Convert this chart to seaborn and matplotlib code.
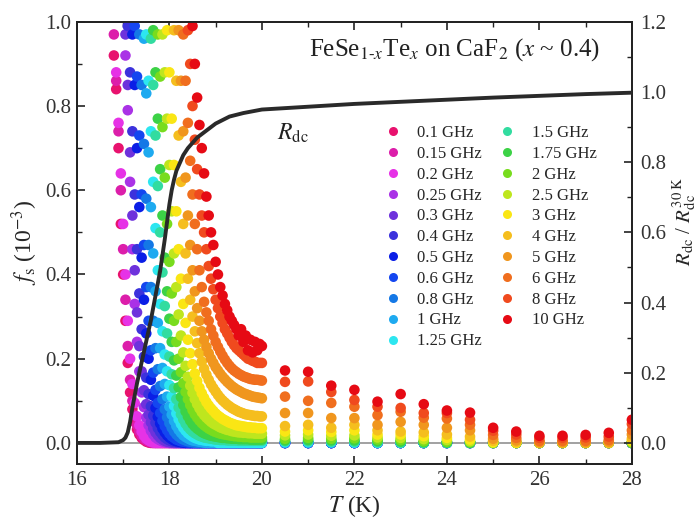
import numpy as np
import pandas as pd
import matplotlib
matplotlib.use("Agg")
import matplotlib.pyplot as plt
from matplotlib.lines import Line2D
from matplotlib.ticker import MultipleLocator
import seaborn as sns

# ---------------- data ----------------
freq_labels = ["0.1 GHz", "0.15 GHz", "0.2 GHz", "0.25 GHz", "0.3 GHz", "0.4 GHz",
               "0.5 GHz", "0.6 GHz", "0.8 GHz", "1 GHz", "1.25 GHz", "1.5 GHz",
               "1.75 GHz", "2 GHz", "2.5 GHz", "3 GHz", "4 GHz", "5 GHz", "6 GHz",
               "8 GHz", "10 GHz"]
colors = ["#E8126E", "#DC1EAA", "#E632E6", "#AA32E6", "#6E32DC", "#3C32DC",
          "#0A1EE6", "#1446F0", "#1478E6", "#1EAAF0", "#2DE6F0", "#32DCA0",
          "#3CD246", "#78DC1E", "#BEE61E", "#FAE614", "#F5BE1E", "#F0961E",
          "#F06E1E", "#F04A1E", "#E60A14"]

# dense sweep: measured every 0.05 K from 16.70 K to 20.00 K
T_dense = np.round(np.arange(16.70, 20.0001, 0.05), 2)
# first temperature at which each series is on-scale (f_s <= 1)
start_T = [16.80, 16.80, 16.85, 17.05, 17.05, 17.10, 17.20, 17.25, 17.35, 17.45,
           17.50, 17.60, 17.65, 17.75, 17.85, 17.95, 18.10, 18.20, 18.30, 18.40, 18.50]
# sparse points above 20 K
T_sparse = [20.5, 21.0, 21.5, 22.0, 22.5, 23.0, 23.5, 24.0, 24.5, 25.0, 25.5,
            26.0, 26.5, 27.0, 27.5, 28.0]

# f_s (1e-3) values, dense sweep (remaining points read as 0)
fs_0_10 = [0.92, 0.84, 0.70, 0.52, 0.40, 0.29, 0.19, 0.12, 0.08, 0.05, 0.032, 0.02,
           0.012, 0.007, 0.003, 0.001]
fs_0_15 = [0.97, 0.86, 0.74, 0.60, 0.46, 0.34, 0.23, 0.15, 0.10, 0.065, 0.042, 0.027,
           0.017, 0.01, 0.006, 0.003, 0.001]
fs_0_20 = [0.88, 0.76, 0.64, 0.52, 0.40, 0.29, 0.20, 0.14, 0.095, 0.063, 0.042, 0.027,
           0.017, 0.01, 0.006, 0.003, 0.001]
fs_0_25 = [0.92, 0.79, 0.62, 0.46, 0.33, 0.24, 0.17, 0.12, 0.085, 0.06, 0.042, 0.029,
           0.02, 0.013, 0.009, 0.006, 0.004, 0.002, 0.001]
fs_0_30 = [0.97, 0.85, 0.69, 0.54, 0.41, 0.31, 0.23, 0.17, 0.125, 0.092, 0.067, 0.049,
           0.035, 0.025, 0.018, 0.012, 0.008, 0.005, 0.003, 0.002, 0.001]
fs_0_40 = [0.99, 0.88, 0.74, 0.59, 0.46, 0.355, 0.27, 0.205, 0.155, 0.116, 0.087, 0.065,
           0.048, 0.035, 0.026, 0.019, 0.013, 0.009, 0.006, 0.004, 0.003, 0.002, 0.001]
fs_0_50 = [0.97, 0.85, 0.70, 0.56, 0.44, 0.34, 0.26, 0.20, 0.15, 0.112, 0.083, 0.062,
           0.046, 0.034, 0.025, 0.018, 0.013, 0.009, 0.006, 0.004, 0.003, 0.002, 0.001]
fs_0_60 = [0.99, 0.87, 0.73, 0.59, 0.47, 0.37, 0.29, 0.22, 0.167, 0.126, 0.095, 0.071,
           0.053, 0.04, 0.03, 0.022, 0.016, 0.012, 0.008, 0.006, 0.004, 0.003, 0.002, 0.001]
fs_0_80 = [0.97, 0.85, 0.71, 0.58, 0.47, 0.37, 0.29, 0.225, 0.175, 0.135, 0.104, 0.08,
           0.061, 0.047, 0.036, 0.027, 0.02, 0.015, 0.011, 0.008, 0.006, 0.004, 0.003,
           0.002, 0.001]
fs_1_00 = [0.96, 0.83, 0.69, 0.56, 0.45, 0.36, 0.285, 0.225, 0.178, 0.14, 0.11, 0.086,
           0.067, 0.052, 0.04, 0.031, 0.024, 0.018, 0.014, 0.011, 0.008, 0.006, 0.005,
           0.004, 0.003, 0.002, 0.001]
fs_1_25 = [0.97, 0.86, 0.74, 0.62, 0.51, 0.41, 0.33, 0.265, 0.21, 0.17, 0.137, 0.11,
           0.088, 0.07, 0.056, 0.045, 0.036, 0.029, 0.023, 0.019, 0.015, 0.012, 0.01,
           0.008, 0.007, 0.006, 0.005, 0.005, 0.004, 0.004, 0.004]
fs_1_50 = [0.96, 0.85, 0.73, 0.61, 0.50, 0.405, 0.325, 0.26, 0.205, 0.163, 0.13, 0.104,
           0.084, 0.068, 0.056, 0.046, 0.038, 0.032, 0.027, 0.023, 0.02, 0.017, 0.015,
           0.013, 0.012, 0.011, 0.01, 0.009, 0.008, 0.008, 0.007, 0.007, 0.007, 0.006,
           0.006, 0.006, 0.006, 0.006, 0.005, 0.005, 0.005, 0.005, 0.005, 0.005, 0.005,
           0.005, 0.005, 0.005, 0.005]
fs_1_75 = [0.98, 0.88, 0.77, 0.65, 0.54, 0.44, 0.36, 0.295, 0.24, 0.196, 0.16, 0.132,
           0.109, 0.09, 0.075, 0.063, 0.053, 0.045, 0.039, 0.034, 0.03, 0.026, 0.023,
           0.021, 0.019, 0.017, 0.016, 0.015, 0.014, 0.013, 0.012, 0.012, 0.011, 0.011,
           0.01, 0.01, 0.01, 0.009, 0.009, 0.009, 0.009, 0.009, 0.008, 0.008, 0.008,
           0.008, 0.008, 0.008]
fs_2_00 = [0.97, 0.87, 0.75, 0.63, 0.52, 0.43, 0.355, 0.29, 0.24, 0.20, 0.168, 0.142,
           0.121, 0.104, 0.09, 0.078, 0.068, 0.06, 0.053, 0.047, 0.042, 0.038, 0.034,
           0.031, 0.028, 0.026, 0.024, 0.022, 0.021, 0.02, 0.019, 0.018, 0.017, 0.016,
           0.016, 0.015, 0.015, 0.014, 0.014, 0.014, 0.013, 0.013, 0.013, 0.013, 0.013,
           0.013]
fs_2_50 = [0.97, 0.88, 0.77, 0.66, 0.55, 0.45, 0.37, 0.305, 0.255, 0.215, 0.183, 0.157,
           0.136, 0.119, 0.104, 0.092, 0.082, 0.073, 0.066, 0.06, 0.055, 0.05, 0.046,
           0.043, 0.04, 0.037, 0.035, 0.033, 0.031, 0.03, 0.028, 0.027, 0.026, 0.025,
           0.025, 0.024, 0.024, 0.023, 0.023, 0.023, 0.022, 0.022, 0.022, 0.022]
fs_3_00 = [0.98, 0.88, 0.77, 0.66, 0.55, 0.46, 0.39, 0.33, 0.285, 0.245, 0.213, 0.187,
           0.165, 0.147, 0.131, 0.118, 0.107, 0.097, 0.089, 0.082, 0.076, 0.07, 0.065,
           0.061, 0.057, 0.054, 0.051, 0.048, 0.046, 0.044, 0.042, 0.041, 0.04, 0.039,
           0.038, 0.037, 0.037, 0.036, 0.036, 0.035, 0.035, 0.035]
fs_4_00 = [0.98, 0.86, 0.73, 0.62, 0.52, 0.45, 0.39, 0.34, 0.30, 0.265, 0.237, 0.213,
           0.193, 0.176, 0.162, 0.15, 0.139, 0.13, 0.122, 0.114, 0.107, 0.101, 0.096,
           0.091, 0.087, 0.083, 0.08, 0.077, 0.074, 0.072, 0.07, 0.068, 0.067, 0.066,
           0.065, 0.064, 0.064, 0.063, 0.063]
fs_5_00 = [0.98, 0.86, 0.74, 0.63, 0.54, 0.47, 0.41, 0.36, 0.32, 0.29, 0.265, 0.245,
           0.228, 0.213, 0.20, 0.19, 0.18, 0.172, 0.164, 0.157, 0.151, 0.145, 0.14,
           0.135, 0.131, 0.127, 0.124, 0.121, 0.118, 0.116, 0.114, 0.112, 0.11, 0.109,
           0.108, 0.107, 0.106]
fs_6_00 = [0.97, 0.86, 0.76, 0.67, 0.59, 0.52, 0.46, 0.41, 0.37, 0.335, 0.31, 0.29,
           0.27, 0.255, 0.24, 0.228, 0.217, 0.207, 0.198, 0.19, 0.183, 0.177, 0.172,
           0.168, 0.164, 0.161, 0.158, 0.156, 0.154, 0.152, 0.151, 0.15, 0.15, 0.149,
           0.148]
fs_8_00 = [0.98, 0.90, 0.80, 0.72, 0.65, 0.59, 0.54, 0.50, 0.46, 0.42, 0.39, 0.365,
           0.34, 0.32, 0.30, 0.285, 0.27, 0.26, 0.25, 0.24, 0.232, 0.225, 0.22, 0.215,
           0.21, 0.205, 0.20, 0.198, 0.195, 0.193, 0.19, 0.19, 0.19]
fs_10_0 = [0.99, 0.90, 0.82, 0.755, 0.70, 0.64, 0.585, 0.54, 0.50, 0.47, 0.43, 0.40,
           0.37, 0.35, 0.33, 0.315, 0.30, 0.29, 0.28, 0.27, 0.255, 0.27, 0.24, 0.255,
           0.22, 0.245, 0.215, 0.24, 0.22, 0.235, 0.23]

# sparse points (20.5 K ... 28 K); remaining series read as 0
sp_1_25 = [0.002, 0.002, 0.002, 0.001]
sp_1_50 = [0.004, 0.004, 0.003, 0.003, 0.002, 0.001]
sp_1_75 = [0.006, 0.007, 0.006, 0.006, 0.004, 0.003, 0.002, 0.001]
sp_2_00 = [0.010, 0.012, 0.010, 0.011, 0.008, 0.007, 0.004, 0.003, 0.002]
sp_2_50 = [0.018, 0.020, 0.017, 0.018, 0.013, 0.012, 0.009, 0.007, 0.004, 0.0, 0.0,
           0.0, 0.0, 0.0, 0.0, 0.002]
sp_3_00 = [0.027, 0.030, 0.026, 0.030, 0.020, 0.020, 0.016, 0.012, 0.008, 0.002, 0.0,
           0.0, 0.0, 0.0, 0.0, 0.005]
sp_4_00 = [0.040, 0.043, 0.036, 0.043, 0.030, 0.027, 0.025, 0.020, 0.015, 0.005, 0.002,
           0.0, 0.0, 0.0, 0.0, 0.010]
sp_5_00 = [0.071, 0.071, 0.059, 0.059, 0.043, 0.050, 0.043, 0.036, 0.030, 0.010, 0.006,
           0.002, 0.002, 0.002, 0.003, 0.020]
sp_6_00 = [0.110, 0.100, 0.095, 0.086, 0.066, 0.074, 0.060, 0.058, 0.043, 0.019, 0.012,
           0.005, 0.005, 0.005, 0.007, 0.030]
sp_8_00 = [0.145, 0.146, 0.121, 0.102, 0.086, 0.083, 0.071, 0.071, 0.055, 0.029, 0.020,
           0.012, 0.012, 0.013, 0.015, 0.045]
sp_10_0 = [0.172, 0.169, 0.136, 0.126, 0.098, 0.116, 0.092, 0.077, 0.072, 0.036, 0.027,
           0.017, 0.017, 0.019, 0.024, 0.055]

# normalised dc resistance
T_R = [16.0, 16.5, 16.9, 17.0, 17.05, 17.1, 17.15, 17.2, 17.3, 17.4, 17.5, 17.6, 17.7,
       17.8, 17.9, 18.0, 18.05, 18.1, 18.15, 18.2, 18.25, 18.3, 18.4, 18.5, 18.6, 18.8,
       19.0, 19.3, 19.6, 20.0, 21.0, 22.0, 23.0, 24.0, 25.0, 26.0, 27.0, 28.0]
R_norm = [0.0, 0.0, 0.002, 0.008, 0.015, 0.03, 0.06, 0.10, 0.17, 0.23, 0.29, 0.35, 0.42,
          0.49, 0.58, 0.68, 0.72, 0.75, 0.775, 0.79, 0.805, 0.82, 0.84, 0.855, 0.87, 0.89,
          0.91, 0.93, 0.94, 0.95, 0.958, 0.966, 0.972, 0.978, 0.984, 0.989, 0.994, 0.998]

dense_lists = [fs_0_10, fs_0_15, fs_0_20, fs_0_25, fs_0_30, fs_0_40, fs_0_50, fs_0_60,
               fs_0_80, fs_1_00, fs_1_25, fs_1_50, fs_1_75, fs_2_00, fs_2_50, fs_3_00,
               fs_4_00, fs_5_00, fs_6_00, fs_8_00, fs_10_0]
sparse_lists = [[], [], [], [], [], [], [], [], [], [], sp_1_25, sp_1_50, sp_1_75,
                sp_2_00, sp_2_50, sp_3_00, sp_4_00, sp_5_00, sp_6_00, sp_8_00, sp_10_0]

rows = []
for lab, t0, dv, sv in zip(freq_labels, start_T, dense_lists, sparse_lists):
    Tg = T_dense[T_dense >= t0 - 1e-6]
    vals = list(dv)[:len(Tg)] + [0.0] * (len(Tg) - len(dv))
    for t, v in zip(Tg, vals):
        rows.append((lab, t, v))
    svals = list(sv) + [0.0] * (len(T_sparse) - len(sv))
    for t, v in zip(T_sparse, svals):
        rows.append((lab, t, v))
df = pd.DataFrame(rows, columns=["freq", "T", "fs"])

# ---------------- style ----------------
sns.set_style("ticks")
plt.rcParams["font.family"] = ["Liberation Serif", "DejaVu Serif"]
plt.rcParams["mathtext.fontset"] = "stix"

fig = plt.figure(figsize=(6.99, 5.19), dpi=100)
ax = fig.add_axes([0.110, 0.106, 0.794, 0.852])

ax.axhline(0, color="#9a9a9a", lw=1.3, zorder=1)
sns.scatterplot(data=df, x="T", y="fs", hue="freq", hue_order=freq_labels,
                palette=colors, s=58, linewidth=0, legend=False, ax=ax, zorder=3)

ax.set_xlim(16, 28)
ax.set_ylim(-0.05, 1.0)
ax.xaxis.set_major_locator(MultipleLocator(2))
ax.xaxis.set_minor_locator(MultipleLocator(1))
ax.yaxis.set_major_locator(MultipleLocator(0.2))
ax.yaxis.set_minor_locator(MultipleLocator(0.1))
ax.set_xlabel(r"$T$ (K)", fontsize=17, labelpad=2)
ax.set_ylabel(r"$f_{\mathrm{s}}$ (10$^{-3}$)", fontsize=17, labelpad=4)

ax2 = ax.twinx()
sns.lineplot(x=T_R, y=R_norm, ax=ax2, color="#2a2a2a", linewidth=2.8, zorder=5)
ax2.set_ylim(-0.06, 1.2)
ax2.yaxis.set_major_locator(MultipleLocator(0.2))
ax2.yaxis.set_minor_locator(MultipleLocator(0.1))
ax2.set_ylabel(r"$R_{\mathrm{dc}}$ / $R_{\mathrm{dc}}^{30\ \mathrm{K}}$", fontsize=15,
               labelpad=0)
ax2.yaxis.set_label_coords(1.070, 0.55)

for a in (ax, ax2):
    for sp in a.spines.values():
        sp.set_linewidth(1.3)
        sp.set_color("#222222")
ax.tick_params(axis="both", which="both", direction="in", top=True, right=False,
               colors="#222222", labelcolor="#333333")
ax.tick_params(axis="both", which="major", length=6, width=1.2, labelsize=15)
ax.tick_params(axis="both", which="minor", length=3.5, width=1.0)
ax.tick_params(axis="x", which="major", pad=5)
ax.tick_params(axis="y", which="major", pad=4)
ax2.tick_params(axis="y", which="both", direction="in", colors="#222222",
                labelcolor="#333333")
ax2.tick_params(axis="y", which="major", length=6, width=1.2, labelsize=15, pad=6)
ax2.tick_params(axis="y", which="minor", length=3.5, width=1.0)

ax.text(0.942, 0.923,
        r"FeSe$_{1\text{-}x}$Te$_{x}$ on CaF$_{2}$ ($x$ ~ 0.4)",
        transform=ax.transAxes, ha="right", va="baseline", fontsize=18, color="#222222")
ax.text(20.33, 0.72, r"$R_{\mathrm{dc}}$", fontsize=17, va="baseline", ha="left",
        color="#222222")

handles = [Line2D([], [], marker="o", ls="", color=c, markersize=6.5,
                  markeredgewidth=0) for c in colors]
ax2.legend(handles, freq_labels, ncol=2, loc="upper left",
           bbox_to_anchor=(386 / 699, 1 - 125 / 519), bbox_transform=fig.transFigure,
           frameon=False, fontsize=12, handlelength=0.8, handletextpad=1.05,
           columnspacing=1.15, labelspacing=0.29, borderpad=0, borderaxespad=0)

fig.savefig("out.png", dpi=100)
